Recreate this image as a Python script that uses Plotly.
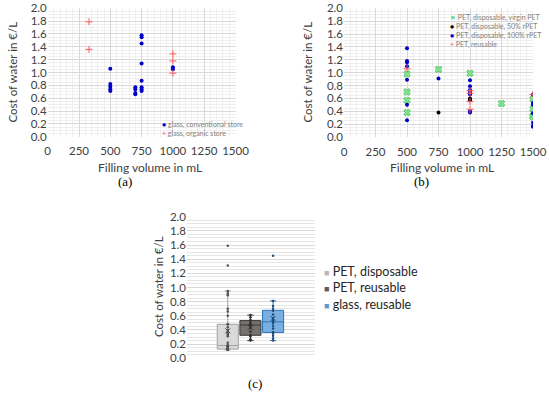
import numpy as np
import plotly.graph_objects as go

# ---------------- data ----------------
# panel (a): glass bottles
a_conv_x = [500, 500, 500, 500, 500, 700, 700, 700, 700,
            750, 750, 750, 750, 750, 750, 750, 750, 1000, 1000]
a_conv_y = [1.06, 0.82, 0.78, 0.74, 0.71, 0.77, 0.74, 0.68, 0.66,
            1.58, 1.55, 1.45, 1.14, 0.87, 0.77, 0.74, 0.71, 1.08, 1.05]
a_org_x = [330, 330, 1000, 1000, 1000]
a_org_y = [1.79, 1.36, 1.29, 1.18, 0.99]

# panel (b): PET bottles
b_virgin_x = [500, 500, 500, 500, 750, 1000, 1250, 1500, 1500, 1500, 1500]
b_virgin_y = [0.98, 0.70, 0.57, 0.38, 1.05, 0.99, 0.52, 0.59, 0.44, 0.33, 0.31]
b_r50_x = [750, 1000, 1000]
b_r50_y = [0.38, 0.60, 0.57]
b_r100_x = [500, 500, 500, 500, 500, 500, 500, 750,
            1000, 1000, 1000, 1000, 1000, 1000, 1000,
            1500, 1500, 1500, 1500, 1500, 1500, 1500]
b_r100_y = [1.38, 1.18, 1.16, 1.10, 0.89, 0.50, 0.26, 0.91,
            0.88, 0.79, 0.73, 0.70, 0.66, 0.40, 0.38,
            0.66, 0.53, 0.50, 0.37, 0.22, 0.17, 0.16]
b_reuse_x = [500, 1000, 1000, 1000, 1000, 1500]
b_reuse_y = [1.06, 0.72, 0.68, 0.55, 0.43, 0.66]

# panel (c): box plots
c_names = ["PET, disposable", "PET, reusable", "glass, reusable"]
c_pet_disp = [0.12, 0.12, 0.12, 0.12, 0.13, 0.13, 0.13, 0.13, 0.13, 0.13,
              0.14, 0.15, 0.16, 0.17, 0.17, 0.18, 0.18, 0.18,
              0.22, 0.31, 0.33, 0.35, 0.37, 0.40, 0.44, 0.48, 0.48,
              0.60, 0.66, 0.70, 0.89, 0.92, 0.95, 1.31, 1.59]
c_pet_reuse = [0.25, 0.27, 0.31, 0.33, 0.38, 0.43, 0.47, 0.48, 0.50,
               0.53, 0.54, 0.58, 0.61]
c_glass_reuse = [0.25, 0.28, 0.32, 0.35, 0.37, 0.42, 0.46, 0.50, 0.515,
                 0.54, 0.57, 0.62, 0.67, 0.70, 0.74, 0.81, 1.45]

y_ticks = [round(0.2 * i, 1) for i in range(11)]
x_ticks = [0, 250, 500, 750, 1000, 1250, 1500]

FONT = "Lato"
TXT = "#404040"
BLUE = "#0000C8"
RED = "#FF5A5A"

fig = go.Figure()

# ---- panel (a)
fig.add_trace(go.Scatter(x=a_conv_x, y=a_conv_y, mode="markers", name="glass, conventional store",
                         marker=dict(symbol="circle", size=4, color=BLUE),
                         xaxis="x", yaxis="y", showlegend=False))
fig.add_trace(go.Scatter(x=a_org_x, y=a_org_y, mode="markers", name="glass, organic store",
                         marker=dict(symbol="cross-thin", size=5, color=RED,
                                     line=dict(width=1, color=RED)),
                         xaxis="x", yaxis="y", showlegend=False))

# ---- panel (b)
fig.add_trace(go.Scatter(x=b_virgin_x, y=b_virgin_y, mode="markers", name="PET, disposable, virgin PET",
                         marker=dict(symbol="x", size=6, color="#7FE58A",
                                     line=dict(width=0.6, color="#2FA84A")),
                         xaxis="x2", yaxis="y2", showlegend=False))
fig.add_trace(go.Scatter(x=b_r50_x, y=b_r50_y, mode="markers", name="PET, disposable, 50% rPET",
                         marker=dict(symbol="circle", size=4, color="#000000"),
                         xaxis="x2", yaxis="y2", showlegend=False))
fig.add_trace(go.Scatter(x=b_r100_x, y=b_r100_y, mode="markers", name="PET, disposable, 100% rPET",
                         marker=dict(symbol="circle", size=4, color=BLUE),
                         xaxis="x2", yaxis="y2", showlegend=False))
fig.add_trace(go.Scatter(x=b_reuse_x, y=b_reuse_y, mode="markers", name="PET, reusable",
                         marker=dict(symbol="cross-thin", size=5, color=RED,
                                     line=dict(width=1, color=RED)),
                         xaxis="x2", yaxis="y2", showlegend=False))

# ---- panel (c)
c_data = [c_pet_disp, c_pet_reuse, c_glass_reuse]
c_fill = ["#D9D9D9", "#767171", "#7AAFE2"]
c_line = ["#A0A0A0", "#3A3838", "#2E75B6"]
c_pts = ["#505050", "#303030", "#1F4E79"]
c_icon = ["#B8B8B8", "#5E5A5A", "#5F9BD6"]
for i, (nm, vals) in enumerate(zip(c_names, c_data)):
    fig.add_trace(go.Box(y=vals, x0=i, name=nm, width=0.93,
                         fillcolor=c_fill[i], line=dict(color=c_line[i], width=1),
                         boxpoints="all", jitter=0, pointpos=0, whiskerwidth=0.3,
                         marker=dict(size=2.5, color=c_pts[i]),
                         xaxis="x3", yaxis="y3", showlegend=False))
    fig.add_trace(go.Scatter(x=[i], y=[float(np.mean(vals))], mode="markers", showlegend=False,
                             marker=dict(symbol="x-thin", size=5, line=dict(width=1, color=c_pts[i])),
                             xaxis="x3", yaxis="y3"))

grid_major = "#D9D9D9"
grid_minor = "#EFEFEF"

def scat_x(domain, anchor):
    return dict(domain=domain, anchor=anchor, range=[0, 1500], tickvals=x_ticks,
                showgrid=True, gridcolor=grid_major, gridwidth=1, zeroline=False,
                showline=False, ticks="", tickfont=dict(family=FONT, size=11.5, color=TXT),
                ticklabelstandoff=6, ticklabeloverflow="allow",
                minor=dict(dtick=50, showgrid=True, gridcolor=grid_minor, gridwidth=1),
                fixedrange=True)

def scat_y(domain, anchor):
    return dict(domain=domain, anchor=anchor, range=[0, 2.0], tickvals=y_ticks,
                ticktext=[f"{v:.1f}" for v in y_ticks], ticklabeloverflow="allow",
                showgrid=True, gridcolor=grid_major, gridwidth=1, zeroline=False,
                showline=False, ticks="", tickfont=dict(family=FONT, size=11.5, color=TXT),
                minor=dict(dtick=0.05, showgrid=True, gridcolor=grid_minor, gridwidth=1),
                fixedrange=True)

W, H = 550, 394
def px(v):
    return v / W
def py(v):
    return 1 - v / H

fig.update_layout(
    width=W, height=H, margin=dict(l=0, r=0, t=0, b=0, autoexpand=False),
    paper_bgcolor="white", plot_bgcolor="white",
    font=dict(family=FONT, color=TXT),
    xaxis=scat_x([px(47.7), px(235.5)], "y"),
    yaxis=scat_y([py(136.7), py(8.3)], "x"),
    xaxis2=scat_x([px(344), px(533)], "y2"),
    yaxis2=scat_y([py(137), py(8.3)], "x2"),
    xaxis3=dict(domain=[px(187), px(315)], anchor="y3", range=[-1.8, 3.85],
                showticklabels=False, showgrid=False, zeroline=False, showline=False,
                ticks="", fixedrange=True),
    yaxis3=dict(domain=[py(358.3), py(216.7)], anchor="x3", range=[0, 2.0], tickvals=y_ticks,
                ticktext=[f"{v:.1f}" for v in y_ticks],
                showgrid=True, gridcolor=grid_major, zeroline=False, showline=False, ticks="",
                tickfont=dict(family=FONT, size=11.5, color=TXT),
                minor=dict(dtick=0.05, showgrid=True, gridcolor="#E6E6E6", gridwidth=1),
                fixedrange=True),
    showlegend=False,
)

SZ = 7
leg_a = (f"<span style='color:{BLUE}'>●</span> glass, conventional store<br>"
         f"<span style='color:{RED}'>+</span> glass, organic store")
leg_b = (f"<span style='color:#2FBF4A'>✕</span> PET, disposable, virgin PET<br>"
         f"<span style='color:#000000'>●</span> PET, disposable, 50% rPET<br>"
         f"<span style='color:{BLUE}'>●</span> PET, disposable, 100% rPET<br>"
         f"<span style='color:{RED}'>+</span> PET, reusable")
leg_c = "<br>".join(f"<span style='color:{c};font-size:9px'>■</span> {n}"
                    for c, n in zip(c_icon, c_names))

annots = [
    dict(text="Cost of water in €/L", x=px(12), y=py(72.5), textangle=-90, font=dict(size=11.5)),
    dict(text="Filling volume in mL", x=px(150), y=py(167), font=dict(size=12)),
    dict(text="(a)", x=px(125), y=py(182), font=dict(family="Liberation Serif", size=13, color="#000")),
    dict(text="Cost of water in €/L", x=px(307), y=py(72.5), textangle=-90, font=dict(size=11.5)),
    dict(text="Filling volume in mL", x=px(442), y=py(167), font=dict(size=12)),
    dict(text="(b)", x=px(421), y=py(182), font=dict(family="Liberation Serif", size=13, color="#000")),
    dict(text="Cost of water in €/L", x=px(158), y=py(287), textangle=-90, font=dict(size=11.5)),
    dict(text="(c)", x=px(255), y=py(383), font=dict(family="Liberation Serif", size=13, color="#000")),
]
for a in annots:
    a.update(xanchor="center", yanchor="middle")
annots.append(dict(text=leg_a, x=px(160), y=py(118), xanchor="left", yanchor="top", align="left",
                   font=dict(size=SZ, color="#7F7F7F")))
annots.append(dict(text=leg_b, x=px(448), y=py(11), xanchor="left", yanchor="top", align="left",
                   font=dict(size=SZ, color="#7F7F7F")))
annots.append(dict(text=leg_c, x=px(322), y=py(288), xanchor="left", yanchor="middle", align="left",
                   font=dict(size=12.5, color="#262626")))
for a in annots:
    a.update(xref="paper", yref="paper", showarrow=False)
    a["font"] = dict(family=a["font"].get("family", FONT), size=a["font"]["size"],
                     color=a["font"].get("color", TXT))
fig.update_layout(annotations=annots)

# remove the browser's default 8 px body margin so the figure sits at the window corner
fig.write_html("out.html", config={"displayModeBar": False},
               post_script="document.body.style.margin='0px';")
